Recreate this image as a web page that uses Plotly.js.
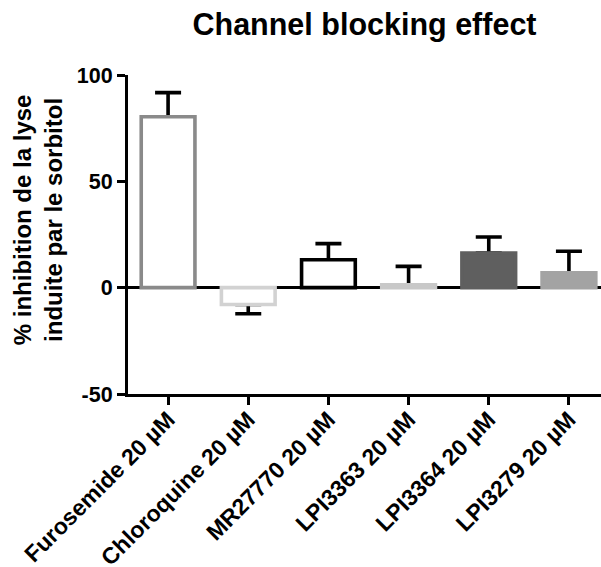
<!DOCTYPE html>
<html>
<head>
<meta charset="utf-8">
<script src="https://cdn.plot.ly/plotly-3.0.1.min.js"></script>
<style>html,body{margin:0;padding:0;background:#fff;}#chart{width:601px;height:567px;}</style>
</head>
<body>
<div id="chart"></div>
<script>
var categories = ["Furosemide 20 µM", "Chloroquine 20 µM", "MR27770 20 µM", "LPI3363 20 µM", "LPI3364 20 µM", "LPI3279 20 µM"];
var values = [80.4, -7.9, 13.1, 1.3, 16.3, 7.0];
var errUp = [11.3, 0, 7.6, 8.7, 7.5, 10.1];
var errDown = [0, 4.4, 0, 0, 0, 0];
var fillColors = ["#ffffff", "#ffffff", "#ffffff", "#c8c8c8", "#5f5f5f", "#a3a3a3"];
var lineColors = ["#8a8a8a", "#d2d2d2", "#000000", "#c8c8c8", "#5f5f5f", "#a3a3a3"];
var yTicks = [-50, 0, 50, 100];

var font = "Liberation Sans, Arial, sans-serif";

var errTrace = {
  type: "bar", x: categories, y: values, width: 0.67,
  marker: {color: "rgba(0,0,0,0)", line: {width: 0}},
  error_y: {type: "data", symmetric: false, array: errUp, arrayminus: errDown,
            color: "#000", thickness: 3.6, width: 13},
  hoverinfo: "skip", showlegend: false
};
var barTrace = {
  type: "bar", x: categories, y: values, width: 0.67,
  marker: {color: fillColors, line: {color: lineColors, width: 3.6}},
  showlegend: false
};

var layout = {
  width: 601, height: 567,
  margin: {l: 128, r: 0, t: 75, b: 173},
  paper_bgcolor: "#fff", plot_bgcolor: "#fff",
  barmode: "overlay",
  title: {text: "<b>Channel blocking effect</b>", font: {family: font, size: 30.5, color: "#000"},
          x: 0.5, xref: "paper", y: 1 - 14/567, yref: "container", yanchor: "top"},
  xaxis: {type: "category", range: [-0.5, 5.4], showline: true, linewidth: 3, linecolor: "#000",
          ticks: "outside", ticklen: 8, tickwidth: 3, tickcolor: "#000", tickangle: -45,
          ticklabelstandoff: -8,
          showgrid: false, zeroline: false,
          tickfont: {family: font, size: 23, color: "#000", weight: "bold"}},
  yaxis: {range: [-50, 100], tickvals: yTicks, ticktext: yTicks.map(String),
          showline: true, linewidth: 3, linecolor: "#000",
          ticks: "outside", ticklen: 8, tickwidth: 3, tickcolor: "#000",
          showgrid: false, zeroline: true, zerolinecolor: "#000", zerolinewidth: 2.5,
          tickfont: {family: font, size: 21.5, color: "#000", weight: "bold"}},
  annotations: [{
    text: "<b>% inhibition de la lyse<br>induite par le sorbitol</b>",
    xref: "paper", yref: "paper", x: -0.19, y: 0.545, xanchor: "center", yanchor: "middle",
    textangle: -90, showarrow: false,
    font: {family: font, size: 24, color: "#000"}
  }]
};

Plotly.newPlot("chart", [errTrace, barTrace], layout, {displayModeBar: false, staticPlot: true});
</script>
</body>
</html>
